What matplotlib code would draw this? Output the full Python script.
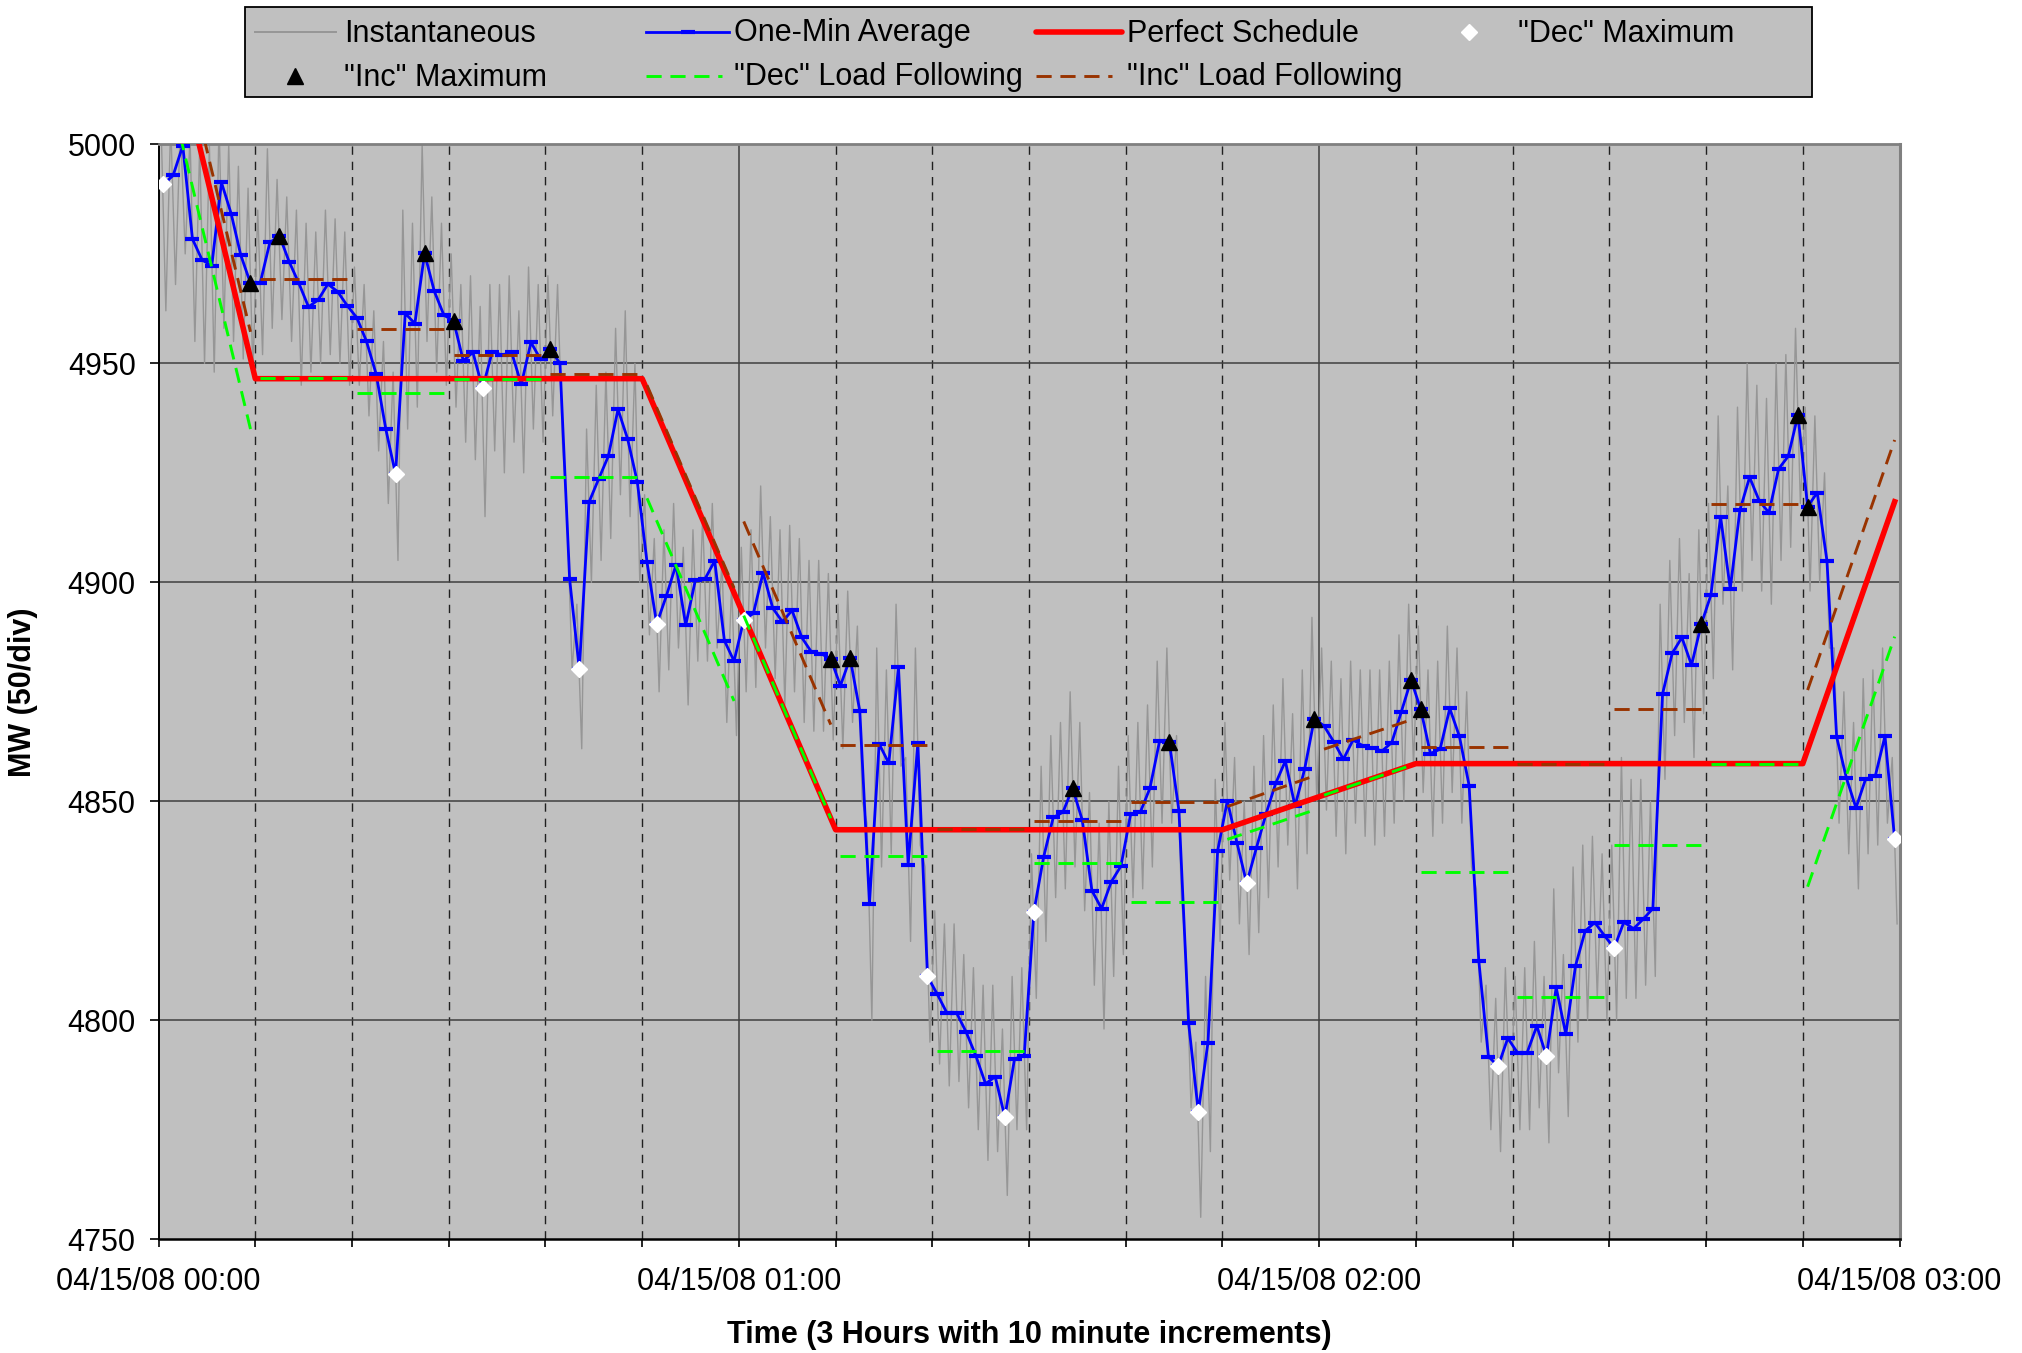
import numpy as np
import matplotlib
matplotlib.use('Agg')
import matplotlib.pyplot as plt
from matplotlib.lines import Line2D
from matplotlib.patches import Rectangle

plt.rcParams['font.family'] = ['Liberation Sans', 'DejaVu Sans']

# --- data: minutes after 04/15/08 00:00, values in MW ---
# one-minute averages (plotted at the middle of each minute)
one_min = [
    4990.9, 4992.9, 4999.7, 4978.4, 4973.6, 4972.3, 4991.3, 4984.2, 4974.7, 4968.3,
    4968.3, 4977.6, 4979.1, 4973.2, 4968.3, 4962.9, 4964.5, 4968.1, 4966.4, 4963.2,
    4960.4, 4955.0, 4947.5, 4934.9, 4924.7, 4961.4, 4959.1, 4975.1, 4966.5, 4961.0,
    4959.7, 4950.6, 4952.5, 4944.3, 4952.7, 4951.9, 4952.5, 4945.2, 4954.8, 4950.9,
    4953.2, 4950.0, 4900.7, 4880.1, 4918.3, 4923.6, 4928.8, 4939.5, 4932.7, 4922.9,
    4904.6, 4890.5, 4896.9, 4904.0, 4890.2, 4900.5, 4900.8, 4904.9, 4886.7, 4882.0,
    4891.4, 4892.9, 4902.2, 4894.1, 4891.0, 4893.6, 4887.4, 4884.1, 4883.7, 4882.5,
    4876.4, 4882.7, 4870.6, 4826.6, 4863.1, 4858.7, 4880.6, 4835.5, 4863.3, 4810.0,
    4806.0, 4801.7, 4801.7, 4797.3, 4791.9, 4785.5, 4787.1, 4777.9, 4791.2, 4791.9,
    4824.8, 4837.2, 4846.3, 4847.5, 4853.0, 4845.7, 4829.6, 4825.5, 4831.6, 4835.2,
    4847.0, 4847.5, 4853.0, 4863.8, 4863.6, 4847.8, 4799.3, 4779.1, 4794.9, 4838.7,
    4850.1, 4840.5, 4831.3, 4839.3, 4847.1, 4854.1, 4859.2, 4848.9, 4857.4, 4868.9,
    4867.2, 4863.6, 4859.6, 4864.0, 4862.7, 4862.2, 4861.5, 4863.4, 4870.5, 4877.7,
    4871.0, 4860.9, 4861.9, 4871.2, 4864.8, 4853.6, 4813.6, 4791.7, 4789.5, 4795.9,
    4792.6, 4792.6, 4798.7, 4791.8, 4807.5, 4796.8, 4812.4, 4820.4, 4822.3, 4819.3,
    4816.5, 4822.4, 4820.9, 4823.1, 4825.5, 4874.5, 4883.8, 4887.4, 4881.1, 4890.4,
    4897.1, 4915.0, 4898.5, 4916.5, 4924.0, 4918.6, 4915.9, 4925.9, 4928.8, 4938.2,
    4917.3, 4920.5, 4904.9, 4864.7, 4855.4, 4848.5, 4855.1, 4855.8, 4864.9, 4841.3,
]

# instantaneous readings: high / low seen within each minute
inst_hi = [
    5005, 5005, 5005, 5002, 5000, 5000, 5005, 5000, 4995, 4990,
    4985, 4999, 4992, 4988, 4985, 4982, 4980, 4985, 4983, 4980,
    4972, 4968, 4962, 4955, 4948, 4985, 4982, 5000, 4988, 4982,
    4975, 4968, 4970, 4963, 4968, 4968, 4970, 4962, 4972, 4968,
    4970, 4968, 4915, 4895, 4935, 4945, 4948, 4958, 4962, 4950,
    4920, 4910, 4912, 4918, 4908, 4912, 4915, 4918, 4905, 4900,
    4908, 4912, 4922, 4915, 4912, 4913, 4910, 4905, 4905, 4902,
    4895, 4898, 4890, 4845, 4885, 4880, 4895, 4860, 4885, 4835,
    4825, 4822, 4822, 4815, 4812, 4808, 4808, 4798, 4810, 4812,
    4838, 4858, 4865, 4868, 4875, 4868, 4852, 4845, 4850, 4858,
    4865, 4868, 4872, 4882, 4885, 4865, 4815, 4795, 4810, 4855,
    4868, 4860, 4850, 4858, 4865, 4872, 4878, 4870, 4880, 4892,
    4885, 4882, 4878, 4882, 4880, 4880, 4880, 4882, 4888, 4895,
    4890, 4880, 4882, 4890, 4885, 4875, 4830, 4808, 4805, 4812,
    4810, 4812, 4818, 4810, 4830, 4815, 4835, 4840, 4842, 4838,
    4840, 4860, 4855, 4855, 4850, 4895, 4905, 4910, 4902, 4912,
    4918, 4938, 4922, 4940, 4950, 4945, 4942, 4950, 4952, 4958,
    4940, 4938, 4925, 4885, 4875, 4868, 4878, 4880, 4885, 4860,
]
inst_lo = [
    4962, 4968, 4975, 4955, 4950, 4948, 4958, 4955, 4951, 4948,
    4952, 4958, 4960, 4955, 4945, 4948, 4950, 4952, 4950, 4945,
    4945, 4938, 4930, 4918, 4905, 4935, 4940, 4955, 4948, 4945,
    4940, 4932, 4928, 4915, 4930, 4925, 4932, 4925, 4935, 4932,
    4938, 4932, 4880, 4862, 4900, 4905, 4910, 4920, 4915, 4900,
    4888, 4875, 4880, 4885, 4872, 4882, 4882, 4885, 4868, 4865,
    4875, 4876, 4885, 4878, 4872, 4875, 4868, 4866, 4866, 4864,
    4862, 4868, 4850, 4800, 4835, 4838, 4858, 4818, 4840, 4795,
    4790, 4785, 4786, 4780, 4775, 4768, 4770, 4760, 4775, 4775,
    4805, 4818, 4828, 4830, 4835, 4825, 4808, 4798, 4810, 4815,
    4828, 4830, 4835, 4845, 4845, 4828, 4780, 4755, 4770, 4818,
    4832, 4822, 4815, 4820, 4828, 4835, 4840, 4830, 4838, 4850,
    4848, 4842, 4838, 4845, 4842, 4840, 4842, 4845, 4850, 4858,
    4852, 4842, 4845, 4852, 4845, 4835, 4795, 4775, 4770, 4778,
    4775, 4775, 4780, 4772, 4788, 4778, 4795, 4800, 4805, 4800,
    4800, 4805, 4805, 4808, 4810, 4855, 4865, 4868, 4860, 4870,
    4878, 4895, 4880, 4898, 4905, 4898, 4895, 4905, 4908, 4918,
    4898, 4900, 4885, 4845, 4838, 4830, 4838, 4840, 4845, 4822,
]

# minutes flagged as "Dec" / "Inc" maximum
dec_max_idx = [0, 24, 33, 43, 51, 60, 79, 87, 90, 107, 112, 138, 143, 150, 179]
inc_max_idx = [9, 12, 27, 30, 40, 69, 71, 94, 104, 119, 129, 130, 159, 169, 170]

# perfect schedule breakpoints
sched_t = [0.5, 10, 50, 70, 110, 130, 170, 179.5]
sched_mw = [5034, 4946.5, 4946.5, 4843.5, 4843.5, 4858.6, 4858.6, 4918.4]

# load following per 10-minute block (value at block start / block end)
dec_lf_start = [5018, 4946.6, 4943.2, 4946.4, 4924.1, 4919.2, 4892.4, 4837.6, 4793.0,
                4835.8, 4827.1, 4841.3, 4851.4, 4833.8, 4805.2, 4840.0, 4858.6, 4830.5]
dec_lf_end = [4935.0, 4946.6, 4943.2, 4946.4, 4924.1, 4872.9, 4846.1, 4837.6, 4793.0,
              4835.8, 4827.1, 4848.0, 4858.2, 4833.8, 4805.2, 4840.0, 4858.6, 4887.6]
inc_lf_start = [5040, 4969.3, 4957.8, 4951.9, 4947.6, 4945.0, 4913.9, 4862.8, 4843.6,
                4845.5, 4849.8, 4848.8, 4861.9, 4862.3, 4858.6, 4871.0, 4917.8, 4875.4]
inc_lf_end = [4957.2, 4969.3, 4957.8, 4951.9, 4947.6, 4898.7, 4867.5, 4862.8, 4843.6,
              4845.5, 4849.8, 4855.8, 4868.6, 4862.3, 4858.6, 4871.0, 4917.8, 4932.5]

hour_labels = ['04/15/08 00:00', '04/15/08 01:00', '04/15/08 02:00', '04/15/08 03:00']

# --- styling ---
BG = '#C0C0C0'
GRAY = '#969696'
BLUE = '#0000FF'
RED = '#FF0000'
GREEN = '#00FF00'
BROWN = '#993300'
FS = 22
LF_DASH = (5.2, 3.0)

W, H = 2022, 1353
fig = plt.figure(figsize=(W / 100, H / 100), dpi=100)
ax = fig.add_axes([158.6 / W, 1 - 1239.2 / H, (1899.5 - 158.6) / W, (1239.2 - 144.4) / H])
ax.set_facecolor(BG)

t_avg = np.arange(len(one_min)) + 0.5
avg = np.array(one_min)

# instantaneous trace: high then low within each minute
t_inst = (np.arange(len(inst_hi))[:, None] + np.array([0.25, 0.75])).ravel()
v_inst = np.column_stack([inst_hi, inst_lo]).ravel()
ax.plot(t_inst, v_inst, color=GRAY, lw=1.0, zorder=2)

ax.plot(t_avg, avg, color=BLUE, lw=2.0, marker='_', ms=10, mew=3.0, zorder=3)
ax.plot(sched_t, sched_mw, color=RED, lw=4.0, zorder=4, solid_joinstyle='round')

ax.plot(t_avg[dec_max_idx], avg[dec_max_idx], ls='none', marker='D', ms=8.3,
        mfc='white', mec='white', zorder=5)
ax.plot(t_avg[inc_max_idx], avg[inc_max_idx], ls='none', marker='^', ms=12,
        mfc='black', mec='black', zorder=6)

for k in range(len(dec_lf_start)):
    tt = [10 * k + 0.5, 10 * k + 9.5]
    ax.plot(tt, [dec_lf_start[k], dec_lf_end[k]], color=GREEN, lw=2.1,
            dashes=LF_DASH, zorder=7)
    ax.plot(tt, [inc_lf_start[k], inc_lf_end[k]], color=BROWN, lw=2.1,
            dashes=LF_DASH, zorder=8)

# grid
for t in range(10, 180, 10):
    if t % 60 == 0:
        ax.axvline(t, color='#404040', lw=1.1, zorder=1)
    else:
        ax.axvline(t, color='#202020', lw=1.0, dashes=(6, 5), zorder=1)
for v in range(4800, 5000, 50):
    ax.axhline(v, color='#404040', lw=1.1, zorder=1)

ax.set_xlim(0, 180)
ax.set_ylim(4750, 5000)
xt = np.arange(0, 181, 10)
ax.set_xticks(xt)
ax.set_xticklabels([hour_labels[t // 60] if t % 60 == 0 else '' for t in xt])
ax.set_yticks(np.arange(4750, 5001, 50))
ax.tick_params(axis='x', length=5.8, width=1.2, pad=14.5, labelsize=FS)
ax.tick_params(axis='y', length=6.5, width=1.2, pad=10, labelsize=FS)

ax.spines['left'].set_color('black')
ax.spines['left'].set_linewidth(1.4)
ax.spines['bottom'].set_color('black')
ax.spines['bottom'].set_linewidth(1.8)
ax.spines['top'].set_color('#808080')
ax.spines['top'].set_linewidth(2.0)
ax.spines['right'].set_color('#808080')
ax.spines['right'].set_linewidth(2.2)

fig.text(1029 / W, 1 - 1335 / H, 'Time (3 Hours with 10 minute increments)',
         ha='center', va='center', fontsize=FS, fontweight='bold')
fig.text(23 / W, 1 - 692 / H, 'MW (50/div)', rotation=90,
         ha='center', va='center', fontsize=FS, fontweight='bold')


# --- legend box (Excel style, fixed column positions) ---
def fx(px):
    return px / W


def fy(py):
    return 1 - py / H


fig.patches.append(Rectangle((fx(245), fy(97)), (1812 - 245) / W, (97 - 7.5) / H,
                             transform=fig.transFigure, facecolor=BG,
                             edgecolor='black', lw=1.3, zorder=0))

row1, row2 = 31.5, 75.5


def leg_line(x0, x1, y, **kw):
    fig.add_artist(Line2D([fx(x0), fx(x1)], [fy(y), fy(y)], transform=fig.transFigure, **kw))


def leg_marker(x, y, **kw):
    fig.add_artist(Line2D([fx(x)], [fy(y)], transform=fig.transFigure, ls='none', **kw))


def leg_text(x, y, s):
    fig.text(fx(x), fy(y + 10), s, ha='left', va='baseline', fontsize=FS)


leg_line(255, 336, row1, color=GRAY, lw=1.4)
leg_text(344, row1, 'Instantaneous')
leg_line(646, 729, row1, color=BLUE, lw=2.0)
leg_marker(688, row1, marker='_', ms=10, mew=3.0, color=BLUE)
leg_text(734, row1, 'One-Min Average')
leg_line(1036, 1122, row1, color=RED, lw=4.0, solid_capstyle='round')
leg_text(1127, row1, 'Perfect Schedule')
leg_marker(1469, row1, marker='D', ms=8.3, mfc='white', mec='white')
leg_text(1518, row1, '"Dec" Maximum')

leg_marker(295, row2, marker='^', ms=12, mfc='black', mec='black')
leg_text(344, row2, '"Inc" Maximum')
leg_line(646, 722, row2, color=GREEN, lw=2.1, dashes=LF_DASH)
leg_text(734, row2, '"Dec" Load Following')
leg_line(1036, 1112, row2, color=BROWN, lw=2.1, dashes=LF_DASH)
leg_text(1127, row2, '"Inc" Load Following')

fig.savefig('out.png', dpi=100)
